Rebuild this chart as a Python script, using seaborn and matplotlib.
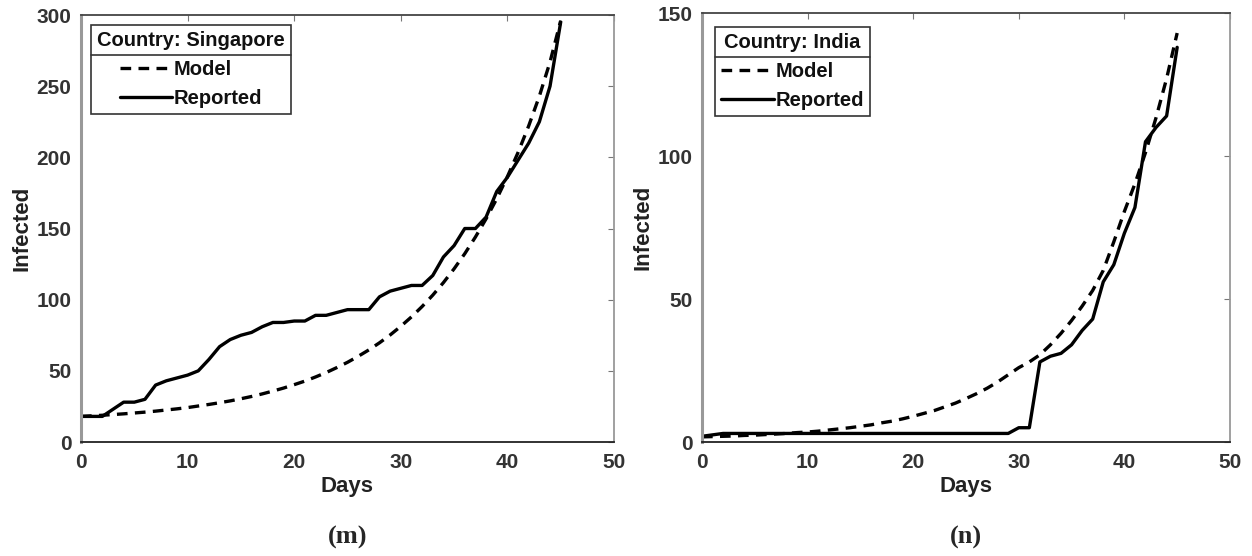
import numpy as np
import pandas as pd
import matplotlib
matplotlib.use("Agg")
import matplotlib.pyplot as plt
import seaborn as sns
from matplotlib.lines import Line2D

days = list(range(46))

sg_model = [18.0, 18.4, 18.8, 19.3, 19.8, 20.4, 21.0, 21.7, 22.5, 23.3,
            24.2, 25.3, 26.4, 27.6, 28.9, 30.4, 32.0, 33.8, 35.8, 37.9,
            40.3, 42.8, 45.7, 48.8, 52.3, 56.0, 60.2, 64.7, 69.7, 75.2,
            81.3, 87.9, 95.2, 103.2, 112.0, 121.7, 132.3, 144.0, 156.8, 170.9,
            186.4, 203.4, 222.1, 243.0, 267.0, 296.0]
sg_reported = [18, 18, 18, 23, 28, 28, 30, 40, 43, 45,
               47, 50, 58, 67, 72, 75, 77, 81, 84, 84,
               85, 85, 89, 89, 91, 93, 93, 93, 102, 106,
               108, 110, 110, 117, 130, 138, 150, 150, 158, 176,
               186, 198, 210, 225, 250, 295]

in_model = [1.8, 1.9, 2.0, 2.1, 2.3, 2.4, 2.6, 2.8, 3.0, 3.3,
            3.5, 3.8, 4.2, 4.6, 5.0, 5.5, 6.0, 6.7, 7.3, 8.1,
            9.0, 10.0, 11.0, 12.3, 13.6, 15.2, 16.9, 18.8, 21.0, 23.5,
            26.0, 28.0, 30.5, 34.0, 38.0, 42.5, 47.5, 53.0, 60.0, 70.0,
            80.6, 90.3, 101.2, 113.4, 127.1, 143.0]
in_reported = [2, 2.5, 3, 3, 3, 3, 3, 3, 3, 3,
               3, 3, 3, 3, 3, 3, 3, 3, 3, 3,
               3, 3, 3, 3, 3, 3, 3, 3, 3, 3,
               5, 5, 28, 30, 31, 34, 39, 43, 56, 62,
               73, 82, 105, 110, 114, 138]

panels = [
    ("Singapore", sg_model, sg_reported, 300, [0, 50, 100, 150, 200, 250, 300], "(m)"),
    ("India", in_model, in_reported, 150, [0, 50, 100, 150], "(n)"),
]

sns.set_style("white")
plt.rcParams["font.family"] = ["Liberation Sans", "DejaVu Sans"]
plt.rcParams["font.weight"] = "bold"

fig = plt.figure(figsize=(12.52, 5.56), dpi=100)
boxes = [[0.0647, 0.205, 0.4257, 0.768], [0.5607, 0.205, 0.4217, 0.7716]]
leg_anchor = [(0.019, 0.977), (0.025, 0.967)]

legends = []
for (country, model, reported, ymax, yticks, tag), box, anchor in zip(panels, boxes, leg_anchor):
    ax = fig.add_axes(box)
    df = pd.DataFrame({
        "Days": days * 2,
        "Infected": model + reported,
        "Series": ["Model"] * len(days) + ["Reported"] * len(days),
    })
    sns.lineplot(data=df, x="Days", y="Infected", style="Series",
                 style_order=["Model", "Reported"],
                 dashes={"Model": (3.2, 2.2), "Reported": ""},
                 color="black", linewidth=2.4, ax=ax)
    ax.set_xlim(0, 50)
    ax.set_ylim(0, ymax)
    ax.set_xticks([0, 10, 20, 30, 40, 50])
    ax.set_yticks(yticks)
    ax.tick_params(direction="in", top=True, right=True, length=4,
                   width=0.8, color="#777777", labelsize=15)
    ax.tick_params(axis="x", pad=8)
    ax.tick_params(axis="y", pad=7)
    for lab in ax.get_xticklabels() + ax.get_yticklabels():
        lab.set_fontweight("bold")
        lab.set_color("#333333")
    ax.set_xlabel("Days", fontsize=16, fontweight="bold", labelpad=3,
                  color="#222222")
    ax.set_ylabel("Infected", fontsize=16, fontweight="bold", labelpad=3,
                  color="#222222")
    ax.spines["bottom"].set_color("#222222")
    ax.spines["top"].set_color("#444444")
    ax.spines["left"].set_color("#999999")
    ax.spines["right"].set_color("#999999")
    for s in ax.spines.values():
        s.set_linewidth(1.3)
    ax.spines["left"].set_linewidth(2.2)

    handles = [Line2D([], [], color="black", lw=2.4, dashes=(3.2, 2.2)),
               Line2D([], [], color="black", lw=2.4)]
    leg = ax.legend(handles, ["Model", "Reported"], title="Country: " + country,
                    loc="upper left", bbox_to_anchor=anchor,
                    fancybox=False, framealpha=1, edgecolor="#333333",
                    fontsize=14.5, title_fontsize=14.5, handlelength=2.6,
                    handletextpad=0.1, borderpad=0.3, labelspacing=0.5,
                    borderaxespad=0.0)
    leg.get_frame().set_linewidth(1.2)
    plt.setp(leg.get_texts(), fontweight="bold", color="#111111")
    leg.get_title().set_fontweight("bold")
    leg.get_title().set_color("#111111")
    legends.append((ax, leg))

    fig.text(box[0] + box[2] / 2, 0.033, tag, ha="center", va="center",
             fontsize=19, fontweight="bold",
             family=["Liberation Serif", "DejaVu Serif"])

# separator line below the legend title, like the MATLAB legend
fig.canvas.draw()
renderer = fig.canvas.get_renderer()
inv = fig.transFigure.inverted()
for ax, leg in legends:
    fb = leg.get_frame().get_window_extent(renderer)
    tb = leg.get_title().get_window_extent(renderer)
    first = leg.get_texts()[0].get_window_extent(renderer)
    yline = (tb.y0 + first.y1) / 2
    (x0, y0), (x1, _) = inv.transform([(fb.x0, yline), (fb.x1, yline)])
    fig.add_artist(Line2D([x0, x1], [y0, y0], color="#333333", lw=1.2,
                          transform=fig.transFigure))

fig.savefig("out.png", dpi=100)
